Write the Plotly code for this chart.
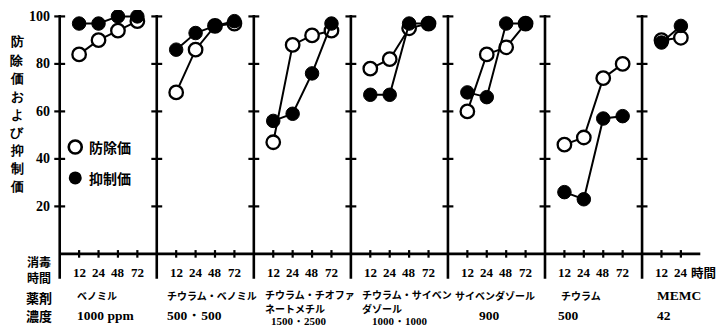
import plotly.graph_objects as go

# ---------------- data ----------------
hours = ["12", "24", "48", "72"]
hours_memc = ["12", "24"]
drugs = ["ベノミル", "チウラム・ベノミル", "チウラム・チオファ<br>ネートメチル",
         "チウラム・サイベン<br>ダゾール", "サイベンダゾール", "チウラム", "MEMC"]
conc = ["1000 ppm", "500・500", "1500・2500", "1000・1000", "900", "500", "42"]
boujo = [[84, 90, 94, 98], [68, 86, 96, 97], [47, 88, 92, 94], [78, 82, 95, 97],
         [60, 84, 87, 97], [46, 49, 74, 80], [90, 91]]
yokusei = [[97, 97, 100, 100], [86, 93, 96, 98], [56, 59, 76, 97], [67, 67, 97, 97],
           [68, 66, 97, 97], [26, 23, 57, 58], [89, 96]]
yticks = [20, 40, 60, 80, 100]
y_title = "防除価および抑制価"
legend_names = ["防除価", "抑制価"]

# ---------------- layout geometry ----------------
WIDTH, HEIGHT = 719, 328
L, R, T, B = 50, 9, 10, 48
W = WIDTH - L - R
H = HEIGHT - T - B
XR = [-0.5, 33.5]
YR = [-11, 102.7]
PANEL = 5

def px_x(px):
    return (px - L) / W

def px_y(py):
    return (T + H - py) / H

def dx(x):  # data x -> pixel
    return L + (x - XR[0]) / (XR[1] - XR[0]) * W

def dy(y):
    return T + (YR[1] - y) / (YR[1] - YR[0]) * H

serif = "Liberation Serif"
cjk = "Noto Sans CJK JP"

fig = go.Figure()

def build(series):
    xs, ys = [], []
    for i, vals in enumerate(series):
        for j, v in enumerate(vals):
            xs.append(i * PANEL + j + 1)
            ys.append(v)
        xs.append(None)
        ys.append(None)
    return xs, ys

bx, by = build(boujo)
kx, ky = build(yokusei)

fig.add_trace(go.Scatter(x=bx, y=by, mode="lines+markers",
                         line=dict(color="black", width=2),
                         marker=dict(symbol="circle", size=13.5, color="white",
                                     line=dict(color="black", width=2.3)),
                         connectgaps=False, showlegend=False))
fig.add_trace(go.Scatter(x=kx, y=ky, mode="lines+markers",
                         line=dict(color="black", width=2),
                         marker=dict(symbol="circle", size=13.5, color="black",
                                     line=dict(color="black", width=1)),
                         connectgaps=False, showlegend=False))

# legend markers
fig.add_trace(go.Scatter(x=[0.8], y=[45], mode="markers",
                         marker=dict(symbol="circle", size=13, color="white",
                                     line=dict(color="black", width=2.6)),
                         showlegend=False))
fig.add_trace(go.Scatter(x=[0.8], y=[32], mode="markers",
                         marker=dict(symbol="circle", size=13, color="black"),
                         showlegend=False))

shapes = []
ndiv = len(drugs)
for i in range(ndiv):
    xv = i * PANEL
    shapes.append(dict(type="line", xref="x", yref="y", x0=xv, x1=xv, y0=-10.5, y1=100.6,
                       line=dict(color="black", width=2.6)))
    for yt in yticks:
        shapes.append(dict(type="line", xref="x", yref="y", x0=xv - 0.28, x1=xv + 0.28,
                           y0=yt, y1=yt, line=dict(color="black", width=2.2)))
shapes.append(dict(type="line", xref="x", yref="y", x0=0, x1=33, y0=0, y1=0,
                   line=dict(color="black", width=2.6)))
tick_positions = []
for i in range(ndiv):
    hl = hours if i < ndiv - 1 else hours_memc
    for j in range(len(hl)):
        tick_positions.append((i * PANEL + j + 1, hl[j]))
for xv, _ in tick_positions:
    shapes.append(dict(type="line", xref="x", yref="y", x0=xv, x1=xv, y0=-1.6, y1=1.6,
                       line=dict(color="black", width=2.2)))

ann = []
def text(px, py, s, size=13, font=serif, xanchor="center", yanchor="middle"):
    ann.append(dict(xref="paper", yref="paper", x=px_x(px), y=px_y(py), text=s,
                    showarrow=False, xanchor=xanchor, yanchor=yanchor,
                    font=dict(family=font, size=size, color="black")))

for yt in yticks:
    text(52, dy(yt), "<b>%d</b>" % yt, size=14, xanchor="right")

# vertical y-axis title, one character per row
for k, ch in enumerate(y_title):
    text(17, 42 + 18.0 * k, "<b>%s</b>" % ch, size=13)

for name, yv in zip(legend_names, [45, 32]):
    text(87, dy(yv), "<b>%s</b>" % name, size=14, font=cjk, xanchor="left")

text(39, 261, "<b>消毒</b>", size=12, font=cjk)
text(39, 277, "<b>時間</b>", size=12, font=cjk)
text(39, 297, "<b>薬剤</b>", size=13, font=cjk)
text(39, 315, "<b>濃度</b>", size=13, font=cjk)

for xv, lab in tick_positions:
    text(dx(xv), 272, "<b>%s</b>" % lab, size=13)
text(dx(tick_positions[-1][0]) + 8, 272, "<b>時間</b>", size=12.5, font=cjk, xanchor="left")

name_off = [15, 8, 9, 9, 5, 14, 13]
conc_off = [15, 8, 15, 19, 29, 11, 13]
for i in range(ndiv):
    base = dx(i * PANEL)
    lines = drugs[i].split("<br>")
    fnt = serif if drugs[i].isascii() else cjk
    sz = 13.5 if drugs[i].isascii() else 10
    y0 = 295 if len(lines) == 1 else 294
    for k, ln in enumerate(lines):
        text(base + name_off[i], y0 + 14 * k, "<b>%s</b>" % ln, size=sz, font=fnt, xanchor="left")
    if len(lines) == 1:
        text(base + conc_off[i], 315, "<b>%s</b>" % conc[i], size=13.5, xanchor="left")
    else:
        text(base + conc_off[i], 321, "<b>%s</b>" % conc[i], size=11, xanchor="left")

fig.update_layout(
    width=WIDTH, height=HEIGHT,
    margin=dict(l=L, r=R, t=T, b=B, pad=0),
    paper_bgcolor="white", plot_bgcolor="white",
    xaxis=dict(range=XR, visible=False, fixedrange=True),
    yaxis=dict(range=YR, visible=False, fixedrange=True),
    shapes=shapes, annotations=ann, showlegend=False,
)

fig.write_html("out.html", config={"displayModeBar": False},
               post_script="document.body.style.margin='0';document.body.style.overflow='hidden';")
